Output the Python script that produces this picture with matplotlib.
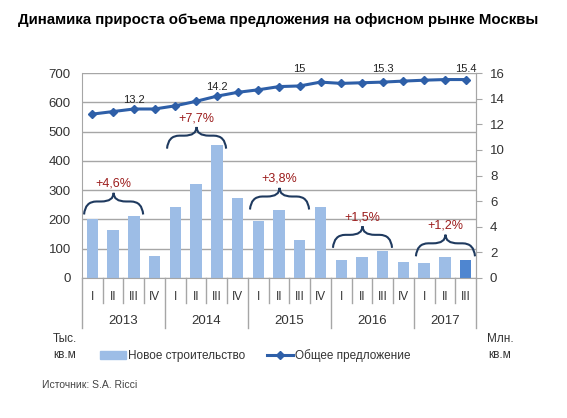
import numpy as np
import matplotlib.pyplot as plt
from matplotlib.path import Path
from matplotlib.patches import PathPatch
from matplotlib.lines import Line2D
from matplotlib.patches import Patch

plt.rcParams['font.family'] = ['Liberation Sans', 'DejaVu Sans']

quarters = ['I', 'II', 'III', 'IV'] * 4 + ['I', 'II', 'III']
years = ['2013', '2014', '2015', '2016', '2017']
new_build = [203, 165, 211, 76, 241, 321, 455, 272, 195, 232, 129, 241,
             63, 72, 92, 54, 51, 70, 63]
total = [12.8, 13.0, 13.2, 13.2, 13.45, 13.8, 14.2, 14.5, 14.7, 14.95, 15.0,
         15.3, 15.2, 15.25, 15.3, 15.38, 15.45, 15.5, 15.5]
line_labels = {2: '13.2', 6: '14.2', 10: '15', 14: '15.3', 18: '15.4'}
growth = ['+4,6%', '+7,7%', '+3,8%', '+1,5%', '+1,2%']
brace_start = [0, 4, 8, 12, 16]
brace_base = [217, 442, 234, 103, 74]

x = np.arange(len(new_build))
bar_colors = ['#9dbde6'] * (len(new_build) - 1) + ['#4f86d0']

fig = plt.figure(figsize=(5.67, 4.18), dpi=100)
ax = fig.add_axes([0.1446, 0.335, 0.695, 0.49])
ax.bar(x, new_build, width=0.55, color=bar_colors, zorder=2)
ax.set_xlim(-0.5, 18.5)
ax.set_ylim(0, 700)
ax.set_yticks(range(0, 701, 100))
ax.grid(axis='y', color='#a6a6a6', linewidth=1, zorder=0)
ax.set_xticks([])
ax.spines['top'].set_visible(False)
for s in ['left', 'right', 'bottom']:
    ax.spines[s].set_color('#a6a6a6')
ax.tick_params(axis='y', length=0, labelsize=9.5, colors='#333333', pad=8)

ax2 = ax.twinx()
ax2.set_ylim(0, 16)
ax2.set_yticks(range(0, 17, 2))
ax2.plot(x, total, color='#2e5fa8', linewidth=2.2, marker='D', markersize=4, zorder=3)
for s in ['top', 'left', 'bottom']:
    ax2.spines[s].set_visible(False)
ax2.spines['right'].set_color('#a6a6a6')
ax2.tick_params(axis='y', length=4, labelsize=9.5, colors='#333333', pad=6)
ax2.tick_params(axis='y', color='#a6a6a6')
for i, lab in line_labels.items():
    ax2.text(i, 15.95 if i > 9 else total[i] + 0.35, lab, ha='center', va='bottom',
             fontsize=8, color='#222222')

# curly braces with growth labels
def brace(a, x0, x1, y0, h, color='#1f3a5f'):
    xm = (x0 + x1) / 2
    d = 0.6
    s = y0 + h * 0.6
    verts = [(x0, y0), (x0 + 0.05, s), (x0 + d, s), (xm - d, s), (xm, s), (xm, y0 + h),
             (xm, s), (xm + d, s), (x1 - d, s), (x1 - 0.05, s), (x1, y0)]
    codes = [Path.MOVETO, Path.CURVE3, Path.CURVE3, Path.LINETO, Path.CURVE3, Path.CURVE3,
             Path.CURVE3, Path.CURVE3, Path.LINETO, Path.CURVE3, Path.CURVE3]
    a.add_patch(PathPatch(Path(verts, codes), fill=False, edgecolor=color,
                          linewidth=1.5, zorder=4, clip_on=False))

for b, i0 in enumerate(brace_start):
    brace(ax, i0 - 0.4, i0 + 2.45, brace_base[b], 74)
    ax.text(i0 + 1.0, brace_base[b] + 84, growth[b], ha='center', va='bottom',
            fontsize=9, color='#9b1b1b', zorder=5)

# category axis below the plot
tr = ax.get_xaxis_transform()
for k in range(len(x) + 1):
    xp = k - 0.5
    long_line = (k % 4 == 0) or k == len(x)
    ax.plot([xp, xp], [0, -0.245 if long_line else -0.12], transform=tr,
            color='#a6a6a6', linewidth=1, clip_on=False)
for i, q in enumerate(quarters):
    ax.text(i, -0.093, q, transform=tr, ha='center', va='center', fontsize=8.5,
            color='#333333')
for j, yr in enumerate(years):
    xc = 4 * j + 1.5 if j < 4 else 17
    ax.text(xc, -0.21, yr, transform=tr, ha='center', va='center', fontsize=9.5,
            color='#333333')

fig.text(18 / 567, 1 - 20 / 418, 'Динамика прироста объема предложения на офисном рынке Москвы',
         fontsize=10.8, fontweight='bold', va='center', ha='left')
fig.text(65 / 567, 1 - 347 / 418, 'Тыс.\nкв.м', ha='center', va='center', fontsize=8.5,
         color='#333333', linespacing=1.5)
fig.text(500 / 567, 1 - 347 / 418, 'Млн.\nкв.м', ha='center', va='center', fontsize=8.5,
         color='#333333', linespacing=1.5)

handles = [Patch(color='#9dbde6'),
           Line2D([], [], color='#2e5fa8', linewidth=2.2, marker='D', markersize=4)]
fig.legend(handles, ['Новое строительство', 'Общее предложение'], ncol=2,
           loc='center', bbox_to_anchor=(0.45, 1 - 356 / 418), frameon=False,
           fontsize=8.5, handlelength=2.2, handletextpad=0.2, columnspacing=1.8,
           labelcolor='#333333')
fig.text(42 / 567, 1 - 385 / 418, 'Источник: S.A. Ricci', fontsize=7.5, color='#444444',
         va='center')

fig.savefig('out.png', dpi=100)
